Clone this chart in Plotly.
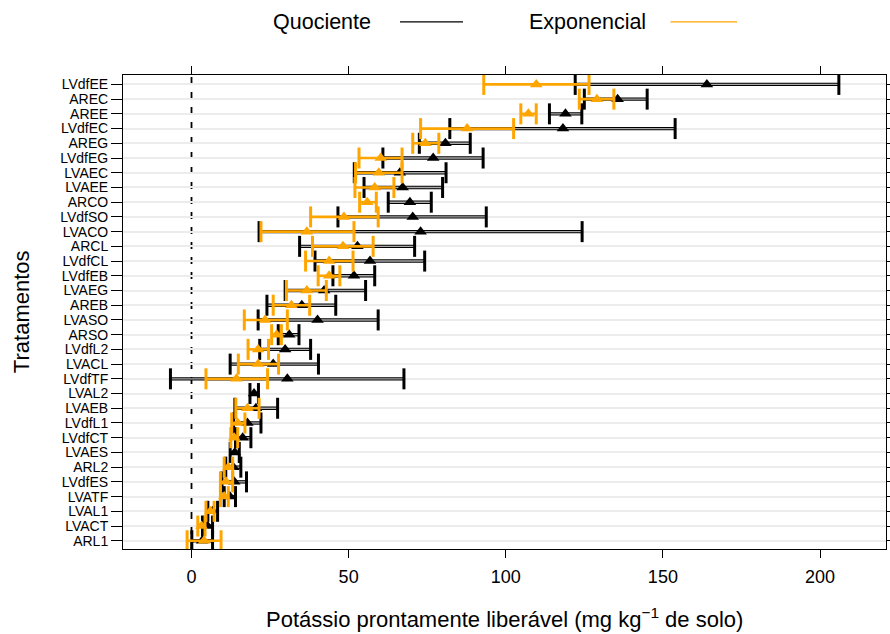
import plotly.graph_objects as go

# Treatments, top to bottom
tratamentos = ["LVdfEE", "AREC", "AREE", "LVdfEC", "AREG", "LVdfEG", "LVAEC", "LVAEE",
               "ARCO", "LVdfSO", "LVACO", "ARCL", "LVdfCL", "LVdfEB", "LVAEG", "AREB",
               "LVASO", "ARSO", "LVdfL2", "LVACL", "LVdfTF", "LVAL2", "LVAEB", "LVdfL1",
               "LVdfCT", "LVAES", "ARL2", "LVdfES", "LVATF", "LVAL1", "LVACT", "ARL1"]

# Quociente model: estimate, lower and upper limits
quoc_est = [164.0, 135.6, 119.0, 118.2, 80.8, 76.9, 66.3, 67.2, 69.5, 70.4, 72.9, 52.8,
            56.8, 51.7, 42.2, 35.1, 40.1, 31.1, 29.8, 26.0, 30.5, 19.9, 20.5, 17.8,
            16.3, 13.8, 13.3, 13.6, 12.2, 6.7, 5.1, 3.4]
quoc_lo = [122.1, 125.0, 113.9, 82.2, 72.5, 60.9, 51.8, 54.9, 62.6, 46.6, 21.5, 34.4,
           39.3, 45.0, 29.8, 24.0, 21.2, 27.6, 21.7, 12.3, -6.7, 18.6, 13.8, 13.4,
           14.0, 12.3, 10.9, 9.7, 10.4, 5.2, 3.5, 0.1]
quoc_hi = [206.0, 145.0, 124.2, 153.9, 88.7, 92.8, 81.0, 79.9, 76.3, 93.8, 124.3, 71.0,
           74.2, 58.3, 55.4, 45.9, 59.4, 34.2, 37.9, 40.4, 67.6, 21.3, 27.4, 22.1,
           18.9, 15.2, 15.7, 17.5, 14.0, 8.3, 6.7, 6.7]

# Exponencial model: estimate, lower and upper limits (None where not fitted)
expo_est = [109.7, 129.0, 107.2, 87.7, 74.4, 60.2, 59.6, 58.3, 55.9, 48.5, 36.7, 48.2,
            43.8, 43.8, 36.7, 31.8, 23.4, 27.1, 21.2, 21.2, 14.3, None, 17.8, 14.7,
            13.6, None, 11.7, 11.0, 10.4, 6.0, 3.2, 4.0]
expo_lo = [93.0, 123.4, 104.8, 72.9, 70.4, 53.3, 52.2, 52.0, 53.5, 37.9, 22.1, 38.5,
           36.3, 40.3, 30.2, 26.0, 16.8, 25.5, 18.0, 14.9, 4.6, None, 14.1, 12.8,
           12.5, None, 10.4, 9.2, 9.2, 4.6, 2.0, -1.4]
expo_hi = [126.5, 134.4, 109.7, 102.5, 78.7, 67.0, 67.0, 64.4, 58.8, 59.4, 51.7, 57.8,
           51.4, 47.2, 42.9, 37.6, 30.5, 28.6, 24.5, 27.7, 24.2, None, 21.5, 17.0,
           14.7, None, 13.1, 13.1, 11.7, 7.2, 4.3, 9.4]

x_ticks = [0, 50, 100, 150, 200]

BLACK = "#000000"
ORANGE = "#FFA500"
FONT = "Liberation Sans, Arial, sans-serif"


def segments(lo, hi, cats):
    xs, ys = [], []
    for a, b, c in zip(lo, hi, cats):
        if a is None or b is None:
            continue
        xs += [a, b, None]
        ys += [c, c, None]
    return xs, ys


def caps(lo, hi, cats):
    xs, ys = [], []
    for a, b, c in zip(lo, hi, cats):
        if a is None or b is None:
            continue
        xs += [a, b]
        ys += [c, c]
    return xs, ys


def points(est, cats):
    xs, ys = [], []
    for e, c in zip(est, cats):
        if e is None:
            continue
        xs.append(e)
        ys.append(c)
    return xs, ys


fig = go.Figure()

# Quociente intervals: dark outer stroke with a grey core
sx, sy = segments(quoc_lo, quoc_hi, tratamentos)
fig.add_trace(go.Scatter(x=sx, y=sy, mode="lines", line=dict(color=BLACK, width=3.4),
                         hoverinfo="skip", showlegend=False))
fig.add_trace(go.Scatter(x=sx, y=sy, mode="lines", line=dict(color="#a8a8a8", width=1.4),
                         hoverinfo="skip", showlegend=False))
cx, cy = caps(quoc_lo, quoc_hi, tratamentos)
fig.add_trace(go.Scatter(x=cx, y=cy, mode="markers",
                         marker=dict(symbol="line-ns", size=15, line=dict(color=BLACK, width=3)),
                         hoverinfo="skip", showlegend=False))
px_, py_ = points(quoc_est, tratamentos)
fig.add_trace(go.Scatter(x=px_, y=py_, mode="markers", name="Quociente",
                         marker=dict(symbol="triangle-up", size=11, color=BLACK),
                         showlegend=False))

# Exponencial intervals
sx, sy = segments(expo_lo, expo_hi, tratamentos)
fig.add_trace(go.Scatter(x=sx, y=sy, mode="lines", line=dict(color=ORANGE, width=2.6),
                         hoverinfo="skip", showlegend=False))
cx, cy = caps(expo_lo, expo_hi, tratamentos)
fig.add_trace(go.Scatter(x=cx, y=cy, mode="markers",
                         marker=dict(symbol="line-ns", size=15, line=dict(color=ORANGE, width=3)),
                         hoverinfo="skip", showlegend=False))
px_, py_ = points(expo_est, tratamentos)
fig.add_trace(go.Scatter(x=px_, y=py_, mode="markers", name="Exponencial",
                         marker=dict(symbol="triangle-up", size=11, color=ORANGE),
                         showlegend=False))

# dashed reference at zero
fig.add_shape(type="line", xref="x", yref="paper", x0=0, x1=0, y0=0, y1=1,
              line=dict(color=BLACK, width=1.8, dash="7px,8px"), layer="below")

# key at the top: label followed by a line sample
fig.add_annotation(x=0.2614, y=1.112, xref="paper", yref="paper", text="Quociente",
                   showarrow=False, font=dict(size=21.5, color="#000"), xanchor="center", yanchor="middle")
fig.add_shape(type="line", xref="paper", yref="paper", x0=0.363, x1=0.4456, y0=1.112, y1=1.112,
              line=dict(color=BLACK, width=1.2))
fig.add_annotation(x=0.6087, y=1.112, xref="paper", yref="paper", text="Exponencial",
                   showarrow=False, font=dict(size=21.5, color="#000"), xanchor="center", yanchor="middle")
fig.add_shape(type="line", xref="paper", yref="paper", x0=0.7176, x1=0.8047, y0=1.112, y1=1.112,
              line=dict(color=ORANGE, width=1.2))

# axis titles
fig.add_annotation(x=0.5, y=-0.146, xref="paper", yref="paper",
                   text="Potássio prontamente liberável (mg kg<sup>−1</sup> de solo)",
                   showarrow=False, font=dict(size=22, color="#000"), xanchor="center", yanchor="middle")
fig.add_annotation(x=-0.1335, y=0.5, xref="paper", yref="paper", text="Tratamentos",
                   textangle=-90, showarrow=False, font=dict(size=22, color="#000"),
                   xanchor="center", yanchor="middle")

fig.update_layout(
    width=890, height=634,
    margin=dict(l=123, r=4, t=75, b=85, autoexpand=False),
    paper_bgcolor="white", plot_bgcolor="white",
    font=dict(family=FONT, color="#000"),
    showlegend=False,
    xaxis=dict(range=[-21.8, 221.0], tickmode="array", tickvals=x_ticks, ticks="outside", ticklen=8,
               tickwidth=1, tickcolor=BLACK, showline=True, linecolor=BLACK, linewidth=1,
               mirror="ticks", showgrid=False, zeroline=False, tickfont=dict(size=18),
               ticklabelstandoff=3, automargin=False),
    yaxis=dict(type="category", categoryorder="array", categoryarray=tratamentos,
               tickmode="array", tickvals=tratamentos, ticktext=tratamentos,
               range=[31.56, -0.64], ticks="outside", ticklen=11, tickwidth=1, tickcolor=BLACK,
               showline=True, linecolor=BLACK, linewidth=1, mirror="ticks",
               showgrid=True, gridcolor="#ececec", gridwidth=2, tickfont=dict(size=14),
               automargin=False),
)

fig.write_html("out.html")
